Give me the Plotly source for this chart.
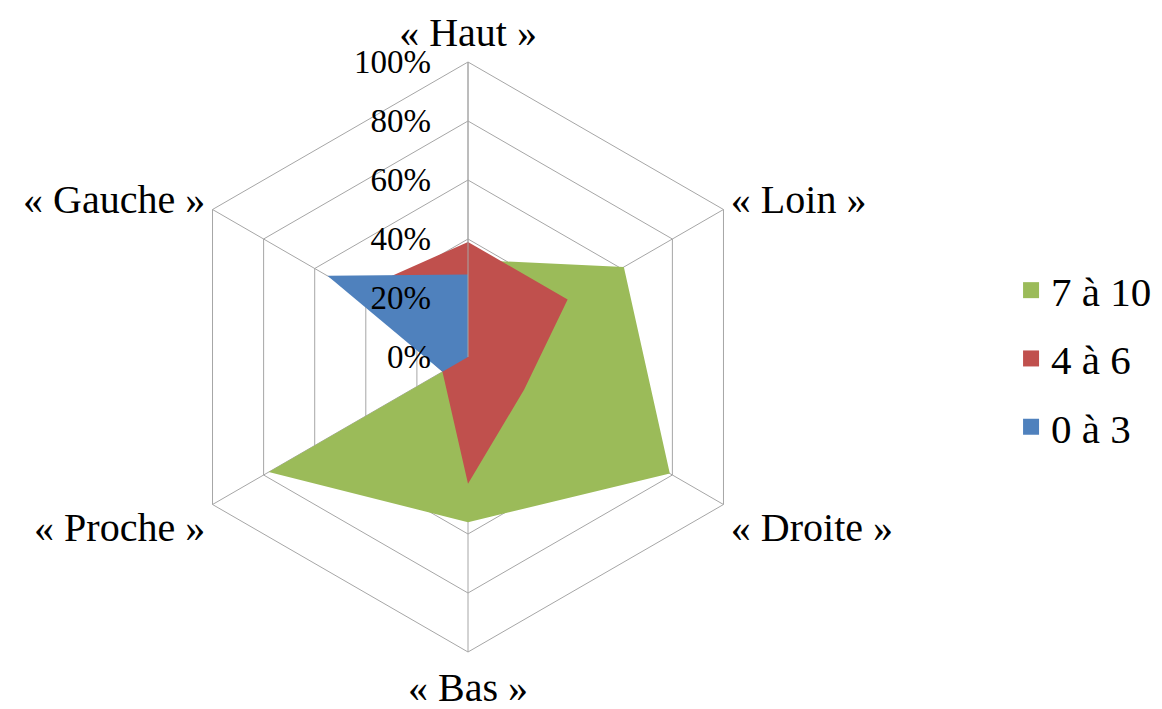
import plotly.graph_objects as go

categories = ["« Haut »", "« Loin »", "« Droite »", "« Bas »", "« Proche »", "« Gauche »"]
series_names = ["7 à 10", "4 à 6", "0 à 3"]
v_7_10 = [0.33, 0.61, 0.79, 0.56, 0.78, 0.0]
v_4_6 = [0.39, 0.39, 0.22, 0.43, 0.10, 0.44]
v_0_3 = [0.28, 0.0, 0.0, 0.0, 0.10, 0.55]
colors = ["#9BBB59", "#C0504D", "#4F81BD"]
radial_ticks = [0, 0.2, 0.4, 0.6, 0.8, 1.0]

FONT = "Liberation Serif"
# page body has an 8px margin; keep the figure inside the window
W, H = 1154, 701
cx, cy, R = 460, 349, 295

fig = go.Figure()
for name, vals, col in zip(series_names, [v_7_10, v_4_6, v_0_3], colors):
    fig.add_trace(go.Scatterpolar(
        r=vals + [vals[0]], theta=categories + [categories[0]],
        mode="lines", fill="toself", fillcolor=col,
        line=dict(width=0, color=col), name=name, showlegend=False,
        hoverinfo="skip"))
for i, (name, col) in enumerate(zip(series_names, colors)):
    fig.add_trace(go.Scatterpolar(
        r=[None], theta=[None], mode="markers", name=name,
        marker=dict(symbol="square", size=16, color=col),
        legendgroup=f"g{i}", showlegend=True))

fig.update_layout(
    width=W, height=H,
    margin=dict(l=0, r=0, t=0, b=0),
    paper_bgcolor="white", plot_bgcolor="white",
    font=dict(family=FONT, size=33, color="black"),
    polar=dict(
        domain=dict(x=[(cx - R) / W, (cx + R) / W],
                    y=[(H - cy - R) / H, (H - cy + R) / H]),
        gridshape="linear",
        bgcolor="white",
        radialaxis=dict(range=[0, 1], tickvals=radial_ticks, tickformat=".0%",
                        angle=90, tickangle=90, showline=True, linecolor="#A6A6A6",
                        linewidth=1, gridcolor="#A6A6A6", gridwidth=1,
                        ticks="outside", ticklen=25, tickcolor="rgba(0,0,0,0)",
                        tickfont=dict(family=FONT, size=33, color="black"),
                        side="counterclockwise"),
        angularaxis=dict(rotation=90, direction="clockwise", categoryarray=categories,
                         type="category",
                         linecolor="#A6A6A6", linewidth=1, gridcolor="#A6A6A6",
                         gridwidth=1, ticks="",
                         tickfont=dict(family=FONT, size=40, color="black")),
    ),
    legend=dict(x=0.8692, y=0.5, xanchor="left", yanchor="middle",
                font=dict(family=FONT, size=41), tracegroupgap=12,
                itemsizing="trace", bgcolor="rgba(0,0,0,0)"),
)
fig.write_html("out.html")
